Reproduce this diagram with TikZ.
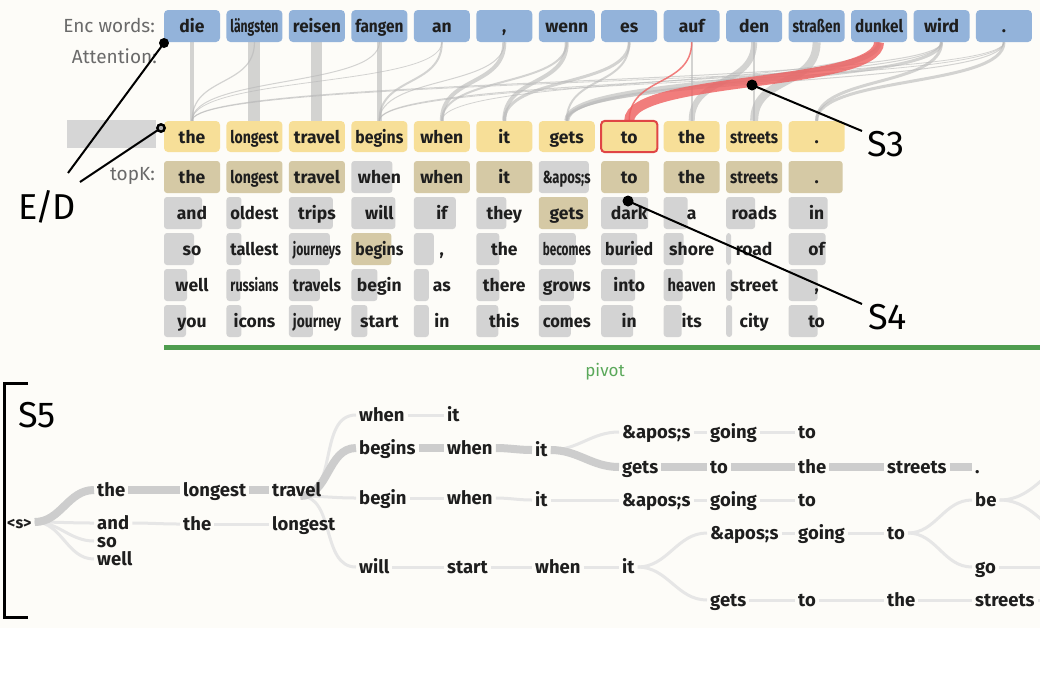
\documentclass[tikz,border=0pt]{standalone}
\usepackage{fontspec}
\setmainfont{Fira Sans}
\usetikzlibrary{calc}
\pgfdeclarelayer{back}
\pgfdeclarelayer{mid}
\pgfsetlayers{back,mid,main}
\definecolor{cbg}{HTML}{FDFCF8}
\definecolor{cenc}{HTML}{93B3DA}
\definecolor{cdec}{HTML}{F7DF98}
\definecolor{ctan}{HTML}{D5C9A5}
\definecolor{cgb}{HTML}{D3D3D3}
\definecolor{cgl}{HTML}{D6D6D6}
\definecolor{catt}{HTML}{B8B8B8}
\definecolor{cred}{HTML}{EE5E5E}
\definecolor{credb}{HTML}{E04545}
\definecolor{cpiv}{HTML}{4F9D4F}
\definecolor{cpivt}{HTML}{5AA85A}
\definecolor{ctk}{HTML}{CDCDCD}
\definecolor{ctn}{HTML}{E6E6E6}
\definecolor{ctxt}{HTML}{1E1E1E}
\definecolor{clab}{HTML}{6A6A6A}
\newsavebox\fitbox
\newcommand\fitw[1]{\sbox\fitbox{#1}\ifdim\wd\fitbox>48pt\relax\pgfmathsetmacro\fitfac{48/\the\wd\fitbox}\scalebox{\fitfac}[1]{\usebox\fitbox}\else\usebox\fitbox\fi}
\tikzset{
  wbox/.style={rounded corners=4pt, minimum width=56pt, minimum height=32pt, inner sep=0pt,
    text height=15pt, text depth=2pt, font=\fontsize{17.5}{17.5}\selectfont\bfseries, text=ctxt},
  encbox/.style={wbox, fill=cenc},
  decbox/.style={wbox, fill=cdec, minimum height=31pt},
  kcell/.style={wbox},
  attn/.style={draw=catt, draw opacity=0.6},
  attnr/.style={draw=cred, draw opacity=0.8},
  tw/.style={anchor=west, inner xsep=3pt, inner ysep=0pt, text height=15pt, text depth=2pt,
    font=\fontsize{18.5}{18.5}\selectfont\bfseries, text=ctxt},
  tk/.style={draw=ctk, line width=8pt},
  tn/.style={draw=ctn, line width=3pt},
  ptr/.style={draw=black, line width=2pt},
  biglab/.style={font=\fontsize{36}{36}\selectfont, text=black, inner sep=0pt},
  lab/.style={font=\fontsize{19}{19}\selectfont, text=clab, anchor=east, inner sep=0pt}
}
\begin{document}
\begin{tikzpicture}[x=1pt,y=-1pt]
\useasboundingbox (0,0) rectangle (1040,689);
\begin{pgfonlayer}{back}
\fill[white] (0,0) rectangle (1040,689);
\fill[cbg] (0,0) rectangle (1040,628);
\end{pgfonlayer}

% row labels
\node[lab] (lenc) at (155,25) {Enc words:};
\node[lab] (latt) at (157,56) {Attention:};
\node[lab] (ltopk) at (155,176) {topK:};

% encoder words
\foreach \w [count=\i from 0] in {die,längsten,reisen,fangen,an,{,},wenn,es,auf,den,straßen,dunkel,wird,.}
  \node[encbox] (e\i) at ({192+62.46*\i},26) {\fitw{\w}};

% decoder words
\fill[cgl] (67,120) rectangle (156,148);
\foreach \w [count=\i from 0] in {the,longest,travel,begins,when,it,gets,to,the,streets,.}
  \node[decbox] (d\i) at ({192+62.46*\i},136.5) {\fitw{\w}};
\draw[credb, line width=2pt, rounded corners=4pt] (d7.south west) rectangle (d7.north east);

% topK
\foreach \c/\r/\w/\b/\k in {
 0/0/the/56/ctan, 0/1/and/38/cgb, 0/2/so/30/cgb, 0/3/well/23/cgb, 0/4/you/22/cgb,
 1/0/longest/56/ctan, 1/1/oldest/15/cgb, 1/2/tallest/15/cgb, 1/3/russians/14/cgb, 1/4/icons/15/cgb,
 2/0/travel/56/ctan, 2/1/trips/44/cgb, 2/2/journeys/41/cgb, 2/3/travels/31/cgb, 2/4/journey/24/cgb,
 3/0/when/41/cgb, 3/1/will/44/cgb, 3/2/begins/40/ctan, 3/3/begin/26/cgb, 3/4/start/16/cgb,
 4/0/when/56/ctan, 4/1/if/42/cgb, 4/2/{,}/20/cgb, 4/3/as/15/cgb, 4/4/in/15/cgb,
 5/0/it/56/ctan, 5/1/they/30/cgb, 5/2/the/23/cgb, 5/3/there/23/cgb, 5/4/this/22/cgb,
 6/0/\&apos;s/50/cgb, 6/1/gets/49/ctan, 6/2/becomes/37/cgb, 6/3/grows/35/cgb, 6/4/comes/32/cgb,
 7/0/to/48/ctan, 7/1/dark/47/cgb, 7/2/buried/36/cgb, 7/3/into/34/cgb, 7/4/in/32/cgb,
 8/0/the/56/ctan, 8/1/a/24/cgb, 8/2/shore/20/cgb, 8/3/heaven/19/cgb, 8/4/its/18/cgb,
 9/0/streets/56/ctan, 9/1/roads/29/cgb, 9/2/road/5/cgb, 9/3/street/6/cgb, 9/4/city/6/cgb,
 10/0/./54/ctan, 10/1/in/39/cgb, 10/2/of/37/cgb, 10/3/{,}/29/cgb, 10/4/to/29/cgb}{
  \fill[\k, rounded corners=3pt] ({164+62.46*\c},{161+36*\r}) rectangle ++(\b,32);
  \node[kcell] (k\c-\r) at ({192+62.46*\c},{177+36*\r}) {\fitw{\w}};
}

% pivot
\fill[cpiv] (164,345) rectangle (1040,349.5);
\node[font=\fontsize{17}{17}\selectfont, text=cpivt, inner sep=0pt] (pivot) at (605,372) {pivot};

% attention
\begin{pgfonlayer}{mid}
\foreach \a/\d/\lw in {0/0/4, 1/1/12, 2/2/11, 3/3/5, 1/0/1.2, 3/0/1, 4/0/0.8, 4/3/2, 5/3/1,
  5/4/4, 6/4/2, 6/5/4, 7/5/3, 7/6/2, 11/6/5, 12/6/3, 9/8/6, 8/8/2, 10/9/8, 9/9/2,
  13/10/3, 12/10/3, 12/0/1, 13/0/0.8, 12/3/1, 13/3/0.8, 11/4/0.8, 13/6/1}
  \draw[attn, line width=\lw pt] (e\a.south) .. controls +(0,45) and +(0,-45) .. (d\d.north);
\draw[attnr, line width=1.5pt] (e8.south) .. controls +(0,45) and +(0,-45) .. (d7.north);
\draw[attnr, line width=10pt] (e11.south) .. controls +(0,45) and +(0,-45) .. (d7.north);
\end{pgfonlayer}

% tree nodes
\node[tw, font=\fontsize{16}{16}\selectfont\bfseries] (s0) at (4,522) {<s>};
\node[tw] (the1) at (94,490) {the};
\node[tw] (and) at (94,523) {and};
\node[tw] (so) at (94,541) {so};
\node[tw] (well) at (94,559) {well};
\node[tw] (longest1) at (180,490) {longest};
\node[tw] (the2) at (180,524) {the};
\node[tw] (travel) at (269,490) {travel};
\node[tw] (longest2) at (269,524) {longest};
\node[tw] (when1) at (356,415) {when};
\node[tw] (begins) at (356,448) {begins};
\node[tw] (begin) at (356,498) {begin};
\node[tw] (will) at (356,567) {will};
\node[tw] (it1) at (444,415) {it};
\node[tw] (when2) at (444,448) {when};
\node[tw] (when3) at (444,498) {when};
\node[tw] (start) at (444,567) {start};
\node[tw] (it2) at (532,450) {it};
\node[tw] (it3) at (532,500) {it};
\node[tw] (when4) at (532,567) {when};
\node[tw] (apos1) at (619,432) {\&apos;s};
\node[tw] (gets1) at (619,467) {gets};
\node[tw] (apos2) at (619,500) {\&apos;s};
\node[tw] (it4) at (619,567) {it};
\node[tw] (going1) at (707,432) {going};
\node[tw] (to1) at (707,467) {to};
\node[tw] (going2) at (707,500) {going};
\node[tw] (apos3) at (707,533) {\&apos;s};
\node[tw] (gets2) at (707,600) {gets};
\node[tw] (to2) at (795,432) {to};
\node[tw] (the3) at (795,467) {the};
\node[tw] (to3) at (795,500) {to};
\node[tw] (going3) at (795,533) {going};
\node[tw] (to4) at (795,600) {to};
\node[tw] (streets1) at (884,467) {streets};
\node[tw] (to5) at (884,533) {to};
\node[tw] (the4) at (884,600) {the};
\node[tw] (dot) at (972,467) {.};
\node[tw] (be) at (972,500) {be};
\node[tw] (go) at (972,567) {go};
\node[tw] (streets2) at (972,600) {streets};
\coordinate (tvb) at ($(travel.east)+(-24,6)$);
\coordinate (beU) at (1090,455);
\coordinate (beD) at (1090,545);
\coordinate (goE) at (1050,567);
\coordinate (stE) at (1050,600);

% tree edges
\begin{pgfonlayer}{mid}
\foreach \p/\q in {s0/and, s0/so, s0/well, and/the2, the2/longest2, when1/it1,
  it2/apos1, apos1/going1, going1/to2, begin/when3, when3/it3, it3/apos2, apos2/going2,
  going2/to3, will/start, start/when4, when4/it4, it4/apos3, apos3/going3, going3/to5,
  to5/be, to5/go, it4/gets2, gets2/to4, to4/the4, the4/streets2}
  \draw[tn] (\p.east) to[out=0,in=180] (\q.west);
\foreach \q in {when1, begin, will}
  \draw[tn] (tvb) to[out=0,in=180] (\q.west);
\draw[tn] (be.east) to[out=0,in=180] (beU);
\draw[tn] (be.east) to[out=0,in=180] (beD);
\draw[tn] (go.east) -- (goE);
\draw[tn] (streets2.east) -- (stE);
\draw[tk] (tvb) to[out=0,in=180] (begins.west);
\foreach \p/\q in {s0/the1, the1/longest1, longest1/travel, begins/when2, when2/it2,
  it2/gets1, gets1/to1, to1/the3, the3/streets1, streets1/dot}
  \draw[tk] (\p.east) to[out=0,in=180] (\q.west);
\end{pgfonlayer}

% annotations
\node[biglab] (ED) at (47,207) {E\kern-2pt/\kern-2pt D};
\node[biglab, anchor=west] (S3) at (867,144) {S3};
\node[biglab, anchor=west] (S4) at (868,317) {S4};
\node[biglab, anchor=west] (S5) at (18,415) {S5};
\coordinate (edA) at (68,173);
\coordinate (edB) at (80,182);
\coordinate (dotA) at (164,43);
\coordinate (dotB) at (161,128);
\coordinate (dotS3) at (752,85);
\coordinate (endS3) at (862,131);
\coordinate (dotS4) at (628,201);
\coordinate (endS4) at (862,304);
\draw[ptr] (edA) -- (dotA);
\draw[ptr] (edB) -- (dotB);
\draw[ptr] (endS3) -- (dotS3);
\draw[ptr] (endS4) -- (dotS4);
\fill (dotA) circle (5pt);
\fill (dotB) circle (5pt);
\fill[gray!60] (dotB) circle (2.2pt);
\fill (dotS3) circle (5.5pt);
\fill (dotS4) circle (5.5pt);
\draw[line width=3pt] (28,383) -- (4,383) -- (4,617) -- (28,617);
\end{tikzpicture}
\end{document}
